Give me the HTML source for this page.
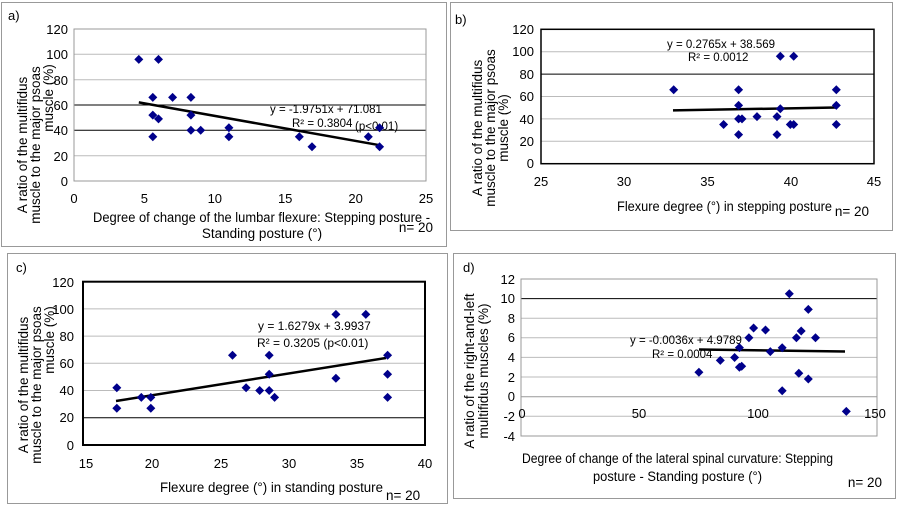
<!DOCTYPE html>
<html><head><meta charset="utf-8"><style>
body{margin:0;background:#fff;}
svg{display:block;font-family:"Liberation Sans",Arial,sans-serif;}
</style></head><body>
<svg width="900" height="505" viewBox="0 0 900 505" xmlns="http://www.w3.org/2000/svg">
<defs><path id="dm" d="M0,-4.5 L4.5,0 L0,4.5 L-4.5,0Z" fill="#00008B"/></defs>
<!-- frames -->
<rect x="1.5" y="2.5" width="445" height="244" fill="none" stroke="#999"/>
<rect x="450.5" y="2.5" width="442" height="228" fill="none" stroke="#999"/>
<rect x="7.5" y="253.5" width="440" height="250" fill="none" stroke="#999"/>
<rect x="453.5" y="253.5" width="442" height="245" fill="none" stroke="#999"/>

<!-- Panel a -->
<g font-size="13" fill="#000">
<text x="8" y="20">a)</text>
<g stroke="#bbb"><line x1="74" y1="29" x2="426" y2="29"/><line x1="74" y1="54.3" x2="426" y2="54.3"/><line x1="74" y1="79.7" x2="426" y2="79.7"/><line x1="74" y1="155.7" x2="426" y2="155.7"/></g>
<g stroke="#000"><line x1="74" y1="105" x2="426" y2="105"/><line x1="74" y1="130.3" x2="426" y2="130.3"/></g>
<rect x="74" y="29" width="352" height="152" fill="none" stroke="#999"/>
<g text-anchor="end"><text x="68" y="34">120</text><text x="68" y="59">100</text><text x="68" y="85">80</text><text x="68" y="110">60</text><text x="68" y="135">40</text><text x="68" y="161">20</text><text x="68" y="186">0</text></g>
<g text-anchor="middle"><text x="74" y="203">0</text><text x="144.4" y="203">5</text><text x="214.8" y="203">10</text><text x="285.2" y="203">15</text><text x="355.6" y="203">20</text><text x="426" y="203">25</text></g>
<g font-size="13.5">
<text x="93" y="222" textLength="337" lengthAdjust="spacingAndGlyphs">Degree of change of the lumbar flexure: Stepping posture -</text>
<text x="262" y="238" text-anchor="middle">Standing posture (°)</text>
<text x="433" y="232" text-anchor="end">n= 20</text>
<text transform="translate(27,145) rotate(-90)" text-anchor="middle">A ratio of the multifidus</text>
<text transform="translate(40,145) rotate(-90)" text-anchor="middle">muscle to the major psoas</text>
<text transform="translate(53,98) rotate(-90)" text-anchor="middle">muscle (%)</text>
</g>
<line x1="138.8" y1="102.4" x2="379.6" y2="145.2" stroke="#000" stroke-width="2.5"/>
<text x="270" y="113" font-size="11.5">y = -1.9751x + 71.081</text>
<text x="292" y="127" font-size="11.5">R² = 0.3804</text>
<text x="355" y="130" font-size="11.5">(p&lt;0.01)</text>
</g>
<g>
<use href="#dm" x="138.8" y="59.4"/><use href="#dm" x="158.5" y="59.4"/><use href="#dm" x="152.8" y="97.4"/><use href="#dm" x="172.6" y="97.4"/><use href="#dm" x="190.9" y="97.4"/><use href="#dm" x="152.8" y="115.1"/><use href="#dm" x="158.5" y="118.9"/><use href="#dm" x="190.9" y="115.1"/><use href="#dm" x="152.8" y="136.7"/><use href="#dm" x="190.9" y="130.3"/><use href="#dm" x="200.7" y="130.3"/><use href="#dm" x="228.9" y="127.8"/><use href="#dm" x="228.9" y="136.7"/><use href="#dm" x="299.3" y="136.7"/><use href="#dm" x="312" y="146.8"/><use href="#dm" x="368.3" y="136.7"/><use href="#dm" x="379.6" y="127.8"/><use href="#dm" x="379.6" y="146.8"/>
</g>

<!-- Panel b -->
<g font-size="13" fill="#000">
<text x="455" y="24">b)</text>
<g stroke="#bbb"><line x1="541" y1="51.7" x2="874" y2="51.7"/><line x1="541" y1="96.5" x2="874" y2="96.5"/><line x1="541" y1="118.9" x2="874" y2="118.9"/><line x1="541" y1="141.3" x2="874" y2="141.3"/></g>
<line x1="541" y1="74.1" x2="874" y2="74.1" stroke="#000"/>
<rect x="541" y="29.3" width="333" height="134.4" fill="none" stroke="#000" stroke-width="1.5"/>
<g text-anchor="end"><text x="534" y="34">120</text><text x="534" y="56">100</text><text x="534" y="79">80</text><text x="534" y="101">60</text><text x="534" y="124">40</text><text x="534" y="146">20</text><text x="534" y="168">0</text></g>
<g text-anchor="middle"><text x="541" y="186">25</text><text x="624" y="186">30</text><text x="707.5" y="186">35</text><text x="791" y="186">40</text><text x="874" y="186">45</text></g>
<g font-size="13.5">
<text x="617" y="211" textLength="215" lengthAdjust="spacingAndGlyphs">Flexure degree (°) in stepping posture</text>
<text x="869" y="216" text-anchor="end">n= 20</text>
<text transform="translate(482,128) rotate(-90)" text-anchor="middle">A ratio of the multifidus</text>
<text transform="translate(495,128) rotate(-90)" text-anchor="middle">muscle to the major psoas</text>
<text transform="translate(508,128) rotate(-90)" text-anchor="middle">muscle (%)</text>
</g>
<line x1="673" y1="110.4" x2="836" y2="107.5" stroke="#000" stroke-width="2.5"/>
<text x="667" y="48" font-size="11.5">y = 0.2765x + 38.569</text>
<text x="688" y="61" font-size="11.5">R² = 0.0012</text>
</g>
<g>
<use href="#dm" x="673.7" y="89.8"/><use href="#dm" x="738.6" y="89.8"/><use href="#dm" x="738.6" y="105.4"/><use href="#dm" x="738.6" y="118.9"/><use href="#dm" x="742" y="118.9"/><use href="#dm" x="723.6" y="124.5"/><use href="#dm" x="738.6" y="134.6"/><use href="#dm" x="757" y="116.6"/><use href="#dm" x="777" y="116.6"/><use href="#dm" x="777" y="134.6"/><use href="#dm" x="780.3" y="108.8"/><use href="#dm" x="780.3" y="56.2"/><use href="#dm" x="793.7" y="56.2"/><use href="#dm" x="790.3" y="124.5"/><use href="#dm" x="793.7" y="124.5"/><use href="#dm" x="836.3" y="89.8"/><use href="#dm" x="836.3" y="105.4"/><use href="#dm" x="836.3" y="124.5"/>
</g>

<!-- Panel c -->
<g font-size="13" fill="#000">
<text x="16" y="272">c)</text>
<g stroke="#bbb"><line x1="83" y1="308.9" x2="425" y2="308.9"/><line x1="83" y1="336.1" x2="425" y2="336.1"/><line x1="83" y1="363.3" x2="425" y2="363.3"/><line x1="83" y1="390.5" x2="425" y2="390.5"/></g>
<line x1="83" y1="417.7" x2="425" y2="417.7" stroke="#000"/>
<rect x="83" y="281.7" width="342" height="163.3" fill="none" stroke="#000" stroke-width="2"/>
<g text-anchor="end"><text x="74" y="287">120</text><text x="74" y="314">100</text><text x="74" y="341">80</text><text x="74" y="368">60</text><text x="74" y="395">40</text><text x="74" y="422">20</text><text x="74" y="450">0</text></g>
<g text-anchor="middle"><text x="86" y="468">15</text><text x="152" y="468">20</text><text x="221" y="468">25</text><text x="289" y="468">30</text><text x="357" y="468">35</text><text x="425" y="468">40</text></g>
<g font-size="13.5">
<text x="160" y="492" textLength="223" lengthAdjust="spacingAndGlyphs">Flexure degree (°) in standing posture</text>
<text x="386" y="500">n= 20</text>
<text transform="translate(28,385) rotate(-90)" text-anchor="middle">A ratio of the multifidus</text>
<text transform="translate(41,385) rotate(-90)" text-anchor="middle">muscle to the major psoas</text>
<text transform="translate(54,340) rotate(-90)" text-anchor="middle">muscle (%)</text>
</g>
<line x1="116" y1="401" x2="386" y2="358" stroke="#000" stroke-width="2.5"/>
<text x="258" y="330" font-size="12">y = 1.6279x + 3.9937</text>
<text x="257" y="347" font-size="12">R² = 0.3205  (p&lt;0.01)</text>
</g>
<g>
<use href="#dm" x="116.8" y="387.8"/><use href="#dm" x="116.8" y="408.3"/><use href="#dm" x="141.3" y="397.4"/><use href="#dm" x="150.8" y="397.4"/><use href="#dm" x="150.8" y="408.3"/><use href="#dm" x="232.5" y="355.2"/><use href="#dm" x="246.1" y="387.8"/><use href="#dm" x="259.7" y="390.5"/><use href="#dm" x="269.2" y="355.2"/><use href="#dm" x="269.2" y="374.2"/><use href="#dm" x="269.2" y="390.5"/><use href="#dm" x="274.6" y="397.4"/><use href="#dm" x="335.9" y="314.4"/><use href="#dm" x="335.9" y="378.3"/><use href="#dm" x="365.8" y="314.4"/><use href="#dm" x="387.6" y="355.2"/><use href="#dm" x="387.6" y="374.2"/><use href="#dm" x="387.6" y="397.4"/>
</g>

<!-- Panel d -->
<g font-size="13" fill="#000">
<text x="463" y="272">d)</text>
<g stroke="#bbb"><line x1="521" y1="279" x2="877" y2="279"/><line x1="521" y1="318.2" x2="877" y2="318.2"/><line x1="521" y1="337.8" x2="877" y2="337.8"/><line x1="521" y1="357.4" x2="877" y2="357.4"/><line x1="521" y1="377" x2="877" y2="377"/><line x1="521" y1="416.3" x2="877" y2="416.3"/></g>
<line x1="521" y1="298.6" x2="877" y2="298.6" stroke="#000"/>
<line x1="521" y1="396.7" x2="877" y2="396.7" stroke="#999"/>
<rect x="521" y="279" width="356" height="157" fill="none" stroke="#999"/>
<g text-anchor="end"><text x="515" y="284">12</text><text x="515" y="303">10</text><text x="515" y="323">8</text><text x="515" y="342">6</text><text x="515" y="362">4</text><text x="515" y="382">2</text><text x="515" y="401">0</text><text x="515" y="421">-2</text><text x="515" y="441">-4</text></g>
<g text-anchor="middle"><text x="522" y="418">0</text><text x="639" y="418">50</text><text x="758" y="418">100</text><text x="875" y="418">150</text></g>
<g font-size="13.5">
<text x="522" y="463" textLength="311" lengthAdjust="spacingAndGlyphs">Degree of change of the lateral spinal curvature: Stepping</text>
<text x="593" y="481" textLength="169" lengthAdjust="spacingAndGlyphs">posture - Standing posture (°)</text>
<text x="882" y="487" text-anchor="end">n= 20</text>
<text transform="translate(474,371) rotate(-90)" text-anchor="middle">A ratio of the right-and-left</text>
<text transform="translate(488,371) rotate(-90)" text-anchor="middle">multifidus muscles (%)</text>
</g>
<line x1="699" y1="349.5" x2="845" y2="351.5" stroke="#000" stroke-width="2.5"/>
<text x="630" y="344" font-size="11.5">y = -0.0036x + 4.9789</text>
<text x="652" y="358" font-size="11.5">R² = 0.0004</text>
</g>
<g>
<use href="#dm" x="698.9" y="372.2"/><use href="#dm" x="720.3" y="360.4"/><use href="#dm" x="734.6" y="357.5"/><use href="#dm" x="739.4" y="347.6"/><use href="#dm" x="739.4" y="367.3"/><use href="#dm" x="741.7" y="366.3"/><use href="#dm" x="748.9" y="337.8"/><use href="#dm" x="753.6" y="328"/><use href="#dm" x="765.5" y="330"/><use href="#dm" x="770.3" y="351.6"/><use href="#dm" x="782.2" y="347.7"/><use href="#dm" x="782.2" y="390.8"/><use href="#dm" x="789.3" y="293.7"/><use href="#dm" x="796.4" y="337.8"/><use href="#dm" x="798.8" y="373.2"/><use href="#dm" x="801.2" y="331"/><use href="#dm" x="808.3" y="309.4"/><use href="#dm" x="808.3" y="379"/><use href="#dm" x="815.5" y="337.8"/><use href="#dm" x="846.3" y="411.4"/>
</g>
</svg>
</body></html>
